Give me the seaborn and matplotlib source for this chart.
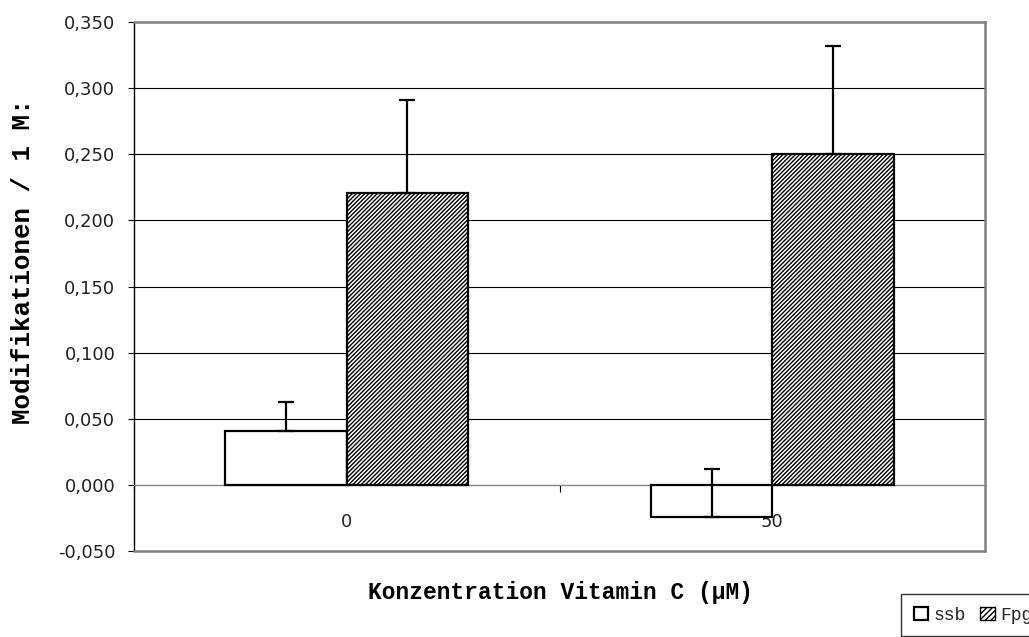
import numpy as np
import pandas as pd
import matplotlib
matplotlib.use("Agg")
import matplotlib.pyplot as plt
import seaborn as sns
from matplotlib.patches import Patch
from matplotlib.ticker import FixedLocator, FuncFormatter, NullFormatter

# ---- data ----
categories = ["0", "50"]
series = ["ssb", "Fpg"]
ssb_values = [0.041, -0.024]
fpg_values = [0.221, 0.250]
ssb_errors = [0.022, 0.036]
fpg_errors = [0.070, 0.082]
y_ticks = [-0.05, 0.0, 0.05, 0.10, 0.15, 0.20, 0.25, 0.30, 0.35]
x_label = "Konzentration Vitamin C (µM)"
y_label = "Modifikationen / 1 M:"

df = pd.DataFrame({
    "Konzentration": categories * 2,
    "Serie": [series[0]] * len(categories) + [series[1]] * len(categories),
    "Wert": ssb_values + fpg_values,
})

sns.set_theme(style="white")
plt.rcParams["hatch.linewidth"] = 1.0
plt.rcParams["font.family"] = ["DejaVu Sans"]

W, H = 1029, 637
fig = plt.figure(figsize=(W / 100, H / 100), dpi=100)
L, R, T, B = 134, 985, 22, 551
ax = fig.add_axes([L / W, 1 - B / H, (R - L) / W, (B - T) / H])

sns.barplot(data=df, x="Konzentration", y="Wert", hue="Serie",
            order=categories, hue_order=series,
            palette=["white", "white"], saturation=1,
            width=0.571, gap=0, errorbar=None,
            edgecolor="black", linewidth=1.6, legend=False, ax=ax, zorder=3)

HATCH = "////////"
# hatch for Fpg bars
for bar in ax.containers[1]:
    bar.set_hatch(HATCH)
    bar.set_edgecolor("black")

# error bars (upper only)
for container, errs in zip(ax.containers, [ssb_errors, fpg_errors]):
    for bar, e in zip(container, errs):
        xc = bar.get_x() + bar.get_width() / 2
        yv = bar.get_y() + bar.get_height()
        ax.errorbar([xc], [yv], yerr=[[0], [e]], fmt="none", ecolor="black",
                    elinewidth=1.6, capsize=5.8, capthick=1.6, zorder=4)

ax.set_ylim(-0.05, 0.35)
ax.set_xlim(-0.5, 1.5)
ax.yaxis.set_major_locator(FixedLocator(y_ticks))
ax.yaxis.set_major_formatter(FuncFormatter(lambda v, p: f"{v:.3f}".replace(".", ",")))
ax.yaxis.grid(True, color="black", linewidth=0.8)
ax.set_axisbelow(True)
ax.set_xlabel("")
ax.set_ylabel("")

# x axis at zero with boundary ticks
ax.spines["bottom"].set_position(("data", 0))
ax.spines["bottom"].set_color("#808080")
ax.spines["bottom"].set_linewidth(0.8)
ax.xaxis.set_major_locator(FixedLocator([-0.5, 0.5, 1.5]))
ax.xaxis.set_major_formatter(NullFormatter())
ax.xaxis.set_minor_locator(FixedLocator([0, 1]))
ax.xaxis.set_minor_formatter(FuncFormatter(lambda v, p: categories[int(round(v))]))
ax.tick_params(axis="x", which="major", bottom=True, direction="out", length=5,
               width=0.8, color="black")
ax.tick_params(axis="x", which="minor", bottom=True, length=0, pad=20,
               labelsize=13, labelcolor="#222222")
ax.tick_params(axis="y", left=True, direction="out", length=4.5, width=0.8,
               color="black", pad=9, labelsize=13, labelcolor="#222222")

for s in ["top", "right"]:
    ax.spines[s].set_color("#808080")
    ax.spines[s].set_linewidth(1.8)
ax.spines["left"].set_color("black")
ax.spines["left"].set_linewidth(1.0)
ax.plot([0, 1], [0, 0], transform=ax.transAxes, color="#808080", lw=1.8,
        clip_on=False, zorder=5)

fig.text(561 / W, 1 - 593 / H, x_label, ha="center", va="center",
         family="Liberation Mono", weight="bold", size=16.5, color="black")
fig.text(23 / W, 1 - 261 / H, y_label, ha="center", va="center", rotation=90,
         family="Liberation Mono", weight="bold", size=18.5, color="black")

handles = [Patch(facecolor="white", edgecolor="black", linewidth=1.6, label=series[0]),
           Patch(facecolor="white", edgecolor="black", linewidth=1.0, hatch="//////", label=series[1])]
leg = fig.legend(handles=handles, loc="upper left",
                 bbox_to_anchor=(901 / W, 1 - 594 / H), bbox_transform=fig.transFigure,
                 ncol=2, frameon=True, fancybox=False, edgecolor="black",
                 prop={"family": "Liberation Mono", "size": 13},
                 handlelength=0.8, handleheight=0.8, handletextpad=0.3,
                 columnspacing=0.8, borderaxespad=0, borderpad=0.7)
leg.get_frame().set_linewidth(1.0)

fig.savefig("out.png", dpi=100)
